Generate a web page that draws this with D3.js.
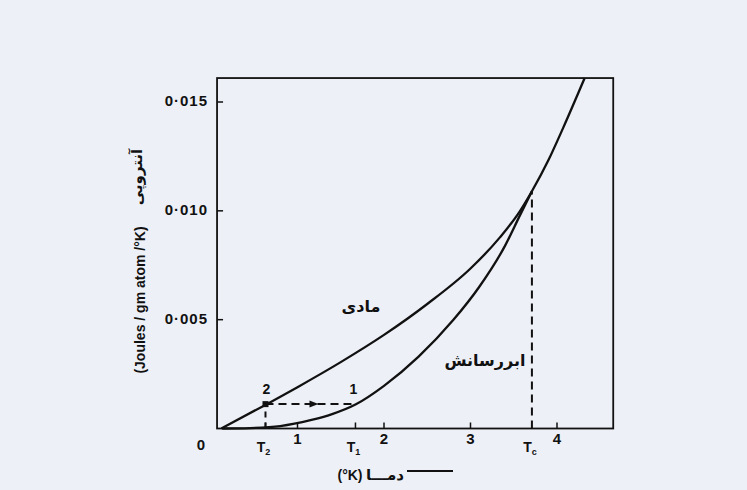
<!DOCTYPE html>
<html>
<head>
<meta charset="utf-8">
<script src="https://cdn.jsdelivr.net/npm/d3@7"></script>
<style>
  html, body { margin: 0; padding: 0; background: #edf0f6; }
  svg { display: block; }
  .num { font-family: "Liberation Sans", Arial, sans-serif; font-weight: bold; fill: #111; }
  .fa { font-family: "DejaVu Sans", sans-serif; font-weight: bold; fill: #111; }
</style>
</head>
<body>
<div id="chart"></div>
<script>
// Entropy vs temperature, normal and superconducting states
const normalT = [0.12, 0.65, 1.00, 1.50, 2.00, 2.50, 3.00, 3.34, 3.57, 3.71, 3.90, 4.07, 4.32];
const normalS = [0, 0.00113, 0.00190, 0.00305, 0.00430, 0.00572, 0.00735, 0.00878, 0.00998, 0.01090, 0.01232, 0.01380, 0.01610];

const superT = [0.13, 0.45, 0.80, 1.15, 1.40, 1.67, 2.00, 2.40, 2.80, 3.10, 3.40, 3.57, 3.71];
const superS = [0, 0.00002, 0.00011, 0.00038, 0.00066, 0.00110, 0.00196, 0.00330, 0.00498, 0.00650, 0.00840, 0.00978, 0.01090];

const xTicks = [1, 2, 3, 4];
const yTicks = [0.005, 0.010, 0.015];
const yTickLabels = ["0·005", "0·010", "0·015"];

// marked temperatures
const T2 = 0.63, T1 = 1.67, Tc = 3.71;
const S12 = 0.00112, Sc = 0.0109;

const width = 747, height = 490;

const svg = d3.select("#chart").append("svg")
  .attr("width", width)
  .attr("height", height);

const x = d3.scaleLinear().domain([0, 4]).range([211, 557]);
const y = d3.scaleLinear().domain([0, 0.015]).range([428.5, 102]);

const xMin = 0.07, xMax = 4.65, yMax = 0.0161;

// frame
svg.append("rect")
  .attr("x", x(xMin))
  .attr("y", y(yMax))
  .attr("width", x(xMax) - x(xMin))
  .attr("height", y(0) - y(yMax))
  .attr("fill", "none")
  .attr("stroke", "#111")
  .attr("stroke-width", 1.8);

// y ticks (inside)
svg.selectAll(".ytick").data(yTicks).enter().append("line")
  .attr("x1", x(xMin)).attr("x2", x(xMin) + 6)
  .attr("y1", (d) => y(d)).attr("y2", (d) => y(d))
  .attr("stroke", "#111").attr("stroke-width", 1.5);

svg.selectAll(".ylab").data(yTicks).enter().append("text")
  .attr("class", "num")
  .attr("x", x(xMin) - 9)
  .attr("y", (d) => y(d))
  .attr("text-anchor", "end")
  .attr("dominant-baseline", "middle")
  .style("font-size", "15px")
  .style("letter-spacing", "1px")
  .text((d, i) => yTickLabels[i]);

// x ticks (inside)
svg.selectAll(".xtick").data(xTicks.concat([T2, T1])).enter().append("line")
  .attr("x1", (d) => x(d)).attr("x2", (d) => x(d))
  .attr("y1", y(0)).attr("y2", y(0) - 6)
  .attr("stroke", "#111").attr("stroke-width", 1.5);

svg.selectAll(".xlab").data(xTicks).enter().append("text")
  .attr("class", "num")
  .attr("x", (d) => x(d))
  .attr("y", 444)
  .attr("text-anchor", "middle")
  .style("font-size", "15px")
  .text((d) => d);

svg.append("text")
  .attr("class", "num")
  .attr("x", 201).attr("y", 450)
  .attr("text-anchor", "middle")
  .style("font-size", "15px")
  .text("0");

// T labels
const tLabels = [
  { t: T2, sub: "2" },
  { t: T1, sub: "1" },
  { t: Tc, sub: "c" },
];
tLabels.forEach((d) => {
  const txt = svg.append("text")
    .attr("class", "num")
    .attr("x", x(d.t) - 2)
    .attr("y", 452)
    .attr("text-anchor", "middle")
    .style("font-size", "14px");
  txt.append("tspan").text("T");
  txt.append("tspan")
    .attr("dy", 3)
    .style("font-size", "9px")
    .text(d.sub);
});

// curves
const line = d3.line()
  .x((d) => x(d[0]))
  .y((d) => y(d[1]))
  .curve(d3.curveMonotoneX);

svg.append("path")
  .datum(normalT.map((t, i) => [t, normalS[i]]))
  .attr("d", line)
  .attr("fill", "none")
  .attr("stroke", "#111")
  .attr("stroke-width", 2.3);

svg.append("path")
  .datum(superT.map((t, i) => [t, superS[i]]))
  .attr("d", line)
  .attr("fill", "none")
  .attr("stroke", "#111")
  .attr("stroke-width", 2.3);

// dashed guides
const dash = "8,5";
svg.append("line")
  .attr("x1", x(Tc)).attr("x2", x(Tc))
  .attr("y1", y(0)).attr("y2", y(Sc))
  .attr("stroke", "#111").attr("stroke-width", 2)
  .attr("stroke-dasharray", dash);

svg.append("line")
  .attr("x1", x(T2)).attr("x2", x(T2))
  .attr("y1", y(0)).attr("y2", y(S12))
  .attr("stroke", "#111").attr("stroke-width", 2)
  .attr("stroke-dasharray", "6,5");

svg.append("line")
  .attr("x1", x(T2)).attr("x2", x(T1) - 4)
  .attr("y1", y(S12)).attr("y2", y(S12))
  .attr("stroke", "#111").attr("stroke-width", 2)
  .attr("stroke-dasharray", dash);

// arrow head on the horizontal path
const ax = x((T2 + T1) / 2) + 8, ay = y(S12);
svg.append("path")
  .attr("d", `M${ax - 9},${ay - 3.5}L${ax},${ay}L${ax - 9},${ay + 3.5}Z`)
  .attr("fill", "#111");

// marker at point 2
svg.append("rect")
  .attr("x", x(T2) - 3).attr("y", y(S12) - 3)
  .attr("width", 6).attr("height", 6)
  .attr("fill", "#111");

svg.append("text").attr("class", "num")
  .attr("x", x(T2) + 1).attr("y", y(S12) - 10)
  .attr("text-anchor", "middle").style("font-size", "14px").text("2");
svg.append("text").attr("class", "num")
  .attr("x", x(T1) - 2).attr("y", y(S12) - 10)
  .attr("text-anchor", "middle").style("font-size", "14px").text("1");

// curve labels
svg.append("text").attr("class", "fa")
  .attr("x", 361).attr("y", 312)
  .attr("text-anchor", "middle").style("font-size", "16px")
  .text("مادی");
svg.append("text").attr("class", "fa")
  .attr("x", 485).attr("y", 366)
  .attr("text-anchor", "middle").style("font-size", "16px")
  .text("ابررسانش");

// x axis title
svg.append("text").attr("class", "num")
  .attr("x", 350).attr("y", 480)
  .attr("text-anchor", "middle").style("font-size", "14px")
  .text("(°K)");
svg.append("text").attr("class", "fa")
  .attr("x", 385).attr("y", 480)
  .attr("text-anchor", "middle").style("font-size", "15px")
  .text("دمـــا");
svg.append("line")
  .attr("x1", 407).attr("x2", 453)
  .attr("y1", 471).attr("y2", 471)
  .attr("stroke", "#111").attr("stroke-width", 2);

// y axis title
const yt = svg.append("g").attr("transform", "translate(140,263) rotate(-90)");
yt.append("text").attr("class", "num")
  .attr("x", -37).attr("y", 5)
  .attr("text-anchor", "middle").style("font-size", "14px")
  .text("(Joules / gm atom /°K)");
yt.append("text").attr("class", "fa")
  .attr("x", 86).attr("y", 2)
  .attr("text-anchor", "middle").style("font-size", "15px")
  .text("آنتروپی");
</script>
</body>
</html>
